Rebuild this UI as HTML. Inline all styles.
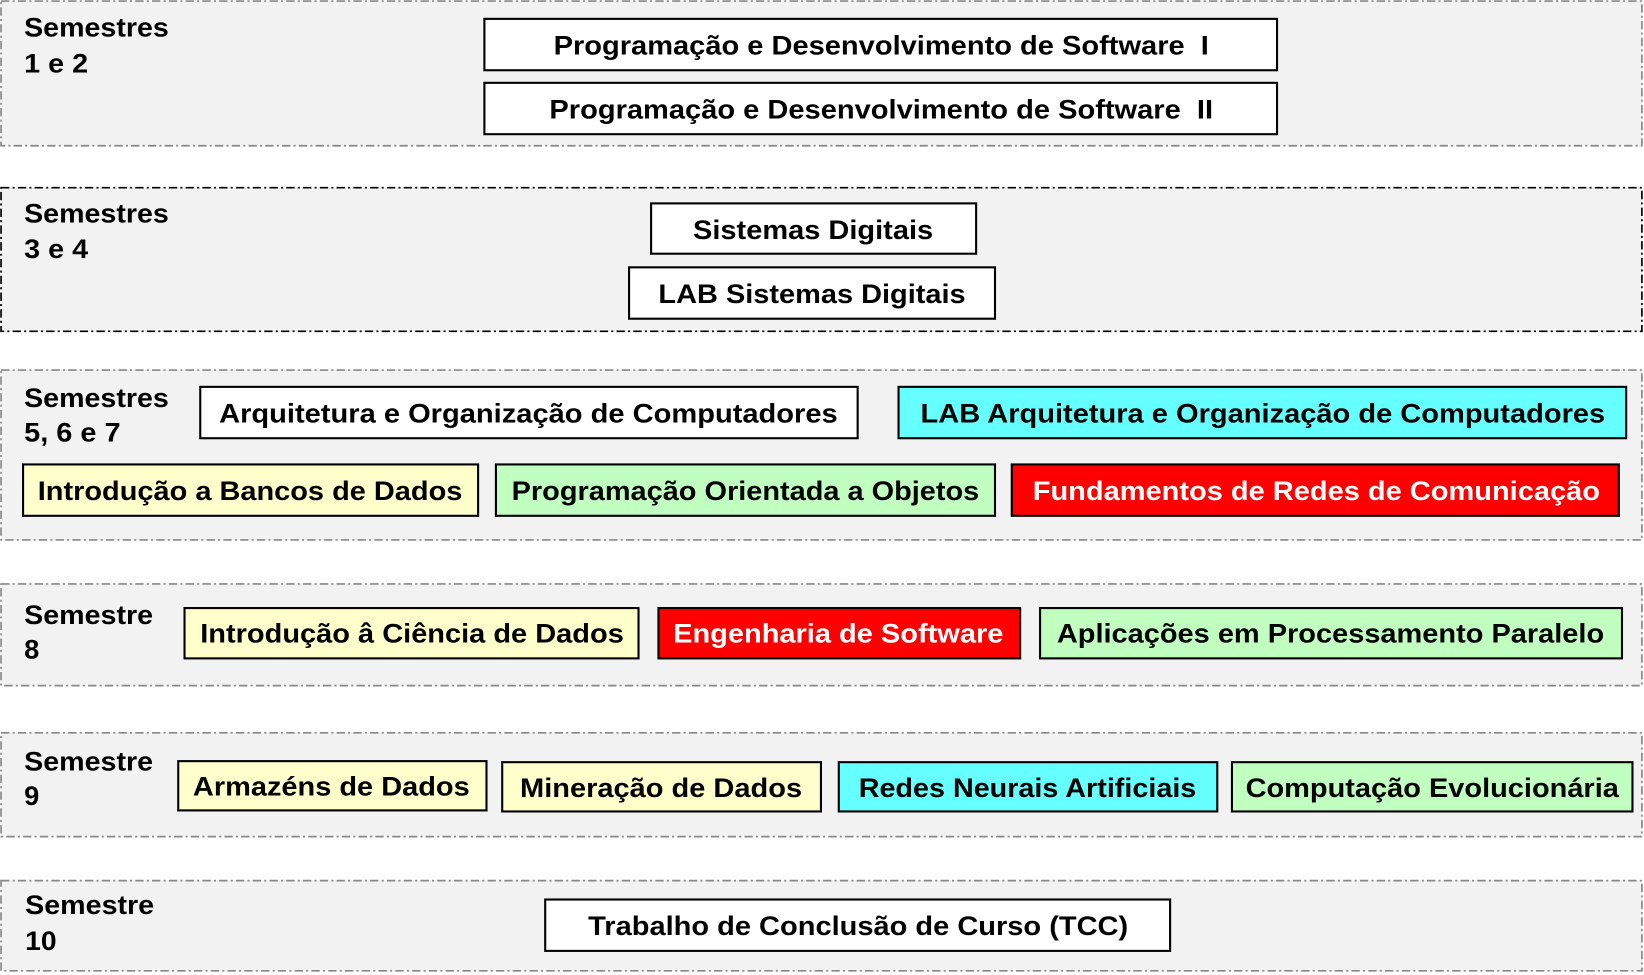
<!DOCTYPE html>
<html><head><meta charset="utf-8"><style>
html,body{margin:0;padding:0;background:#fff;}
svg{display:block;}
text{font-family:"Liberation Sans",Arial,sans-serif;font-weight:bold;font-size:26px;}
</style></head><body>
<svg width="1644" height="975" viewBox="0 0 1568 930" preserveAspectRatio="none" xmlns="http://www.w3.org/2000/svg">
<g fill="#f2f2f2" stroke-width="1.6">
<rect x="1" y="1" width="1565" height="138" stroke="#888" stroke-dasharray="8,3,2,3"/>
<rect x="1" y="179" width="1565" height="137" stroke="#000" stroke-dasharray="8,3,2,3"/>
<rect x="1" y="353" width="1565" height="162" stroke="#888" stroke-dasharray="8,3,2,3"/>
<rect x="1" y="557" width="1565" height="97" stroke="#888" stroke-dasharray="8,3,2,3"/>
<rect x="1" y="699" width="1565" height="99" stroke="#888" stroke-dasharray="8,3,2,3"/>
<rect x="1" y="840" width="1565" height="86" stroke="#888" stroke-dasharray="8,3,2,3"/>
</g>
<g stroke="#000" stroke-width="2">
<rect x="462" y="18" width="756" height="49" fill="#fff"/>
<rect x="462" y="79" width="756" height="49" fill="#fff"/>
<rect x="621" y="194" width="310" height="48" fill="#fff"/>
<rect x="600" y="255" width="349" height="49" fill="#fff"/>
<rect x="191" y="369" width="627" height="49" fill="#fff"/>
<rect x="857" y="369" width="694" height="49" fill="#66ffff"/>
<rect x="22" y="443" width="434" height="49" fill="#ffffcc"/>
<rect x="473" y="443" width="476" height="49" fill="#c0ffc0"/>
<rect x="965" y="443" width="579" height="49" fill="#ff0000"/>
<rect x="176" y="580" width="433" height="48" fill="#ffffcc"/>
<rect x="628" y="580" width="345" height="48" fill="#ff0000"/>
<rect x="992" y="580" width="555" height="48" fill="#c0ffc0"/>
<rect x="170" y="726" width="294" height="47" fill="#ffffcc"/>
<rect x="479" y="727" width="304" height="47" fill="#ffffcc"/>
<rect x="800" y="727" width="361" height="47" fill="#66ffff"/>
<rect x="1175" y="727" width="382" height="47" fill="#c0ffc0"/>
<rect x="520" y="858" width="596" height="49" fill="#fff"/>
</g>
<g fill="#000">
<text x="23" y="35" textLength="138" lengthAdjust="spacingAndGlyphs">Semestres</text>
<text x="23" y="69" textLength="61" lengthAdjust="spacingAndGlyphs">1 e 2</text>
<text x="23" y="212" textLength="138" lengthAdjust="spacingAndGlyphs">Semestres</text>
<text x="23" y="246" textLength="61" lengthAdjust="spacingAndGlyphs">3 e 4</text>
<text x="23" y="388" textLength="138" lengthAdjust="spacingAndGlyphs">Semestres</text>
<text x="23" y="421" textLength="92" lengthAdjust="spacingAndGlyphs">5, 6 e 7</text>
<text x="23" y="595" textLength="123" lengthAdjust="spacingAndGlyphs">Semestre</text>
<text x="23" y="628">8</text>
<text x="23" y="735" textLength="123" lengthAdjust="spacingAndGlyphs">Semestre</text>
<text x="23" y="768">9</text>
<text x="24" y="872" textLength="123" lengthAdjust="spacingAndGlyphs">Semestre</text>
<text x="24" y="906" textLength="30" lengthAdjust="spacingAndGlyphs">10</text>

<text x="528" y="52" textLength="625" lengthAdjust="spacingAndGlyphs" xml:space="preserve">Programação e Desenvolvimento de Software  I</text>
<text x="524" y="113" textLength="633" lengthAdjust="spacingAndGlyphs" xml:space="preserve">Programação e Desenvolvimento de Software  II</text>
<text x="661" y="228" textLength="229" lengthAdjust="spacingAndGlyphs">Sistemas Digitais</text>
<text x="628" y="289" textLength="293" lengthAdjust="spacingAndGlyphs">LAB Sistemas Digitais</text>
<text x="209" y="403" textLength="590" lengthAdjust="spacingAndGlyphs">Arquitetura e Organização de Computadores</text>
<text x="878" y="403" textLength="653" lengthAdjust="spacingAndGlyphs">LAB Arquitetura e Organização de Computadores</text>
<text x="36" y="477" textLength="405" lengthAdjust="spacingAndGlyphs">Introdução a Bancos de Dados</text>
<text x="488" y="477" textLength="446" lengthAdjust="spacingAndGlyphs">Programação Orientada a Objetos</text>
<text x="985" y="477" textLength="541" lengthAdjust="spacingAndGlyphs" fill="#fff">Fundamentos de Redes de Comunicação</text>
<text x="191" y="613" textLength="404" lengthAdjust="spacingAndGlyphs">Introdução â Ciência de Dados</text>
<text x="642" y="613" textLength="315" lengthAdjust="spacingAndGlyphs" fill="#fff">Engenharia de Software</text>
<text x="1008" y="613" textLength="522" lengthAdjust="spacingAndGlyphs">Aplicações em Processamento Paralelo</text>
<text x="184" y="759" textLength="264" lengthAdjust="spacingAndGlyphs">Armazéns de Dados</text>
<text x="496" y="760" textLength="269" lengthAdjust="spacingAndGlyphs">Mineração de Dados</text>
<text x="819" y="760" textLength="322" lengthAdjust="spacingAndGlyphs">Redes Neurais Artificiais</text>
<text x="1188" y="760" textLength="356" lengthAdjust="spacingAndGlyphs">Computação Evolucionária</text>
<text x="561" y="892" textLength="515" lengthAdjust="spacingAndGlyphs">Trabalho de Conclusão de Curso (TCC)</text>
</g>
</svg>
</body></html>
